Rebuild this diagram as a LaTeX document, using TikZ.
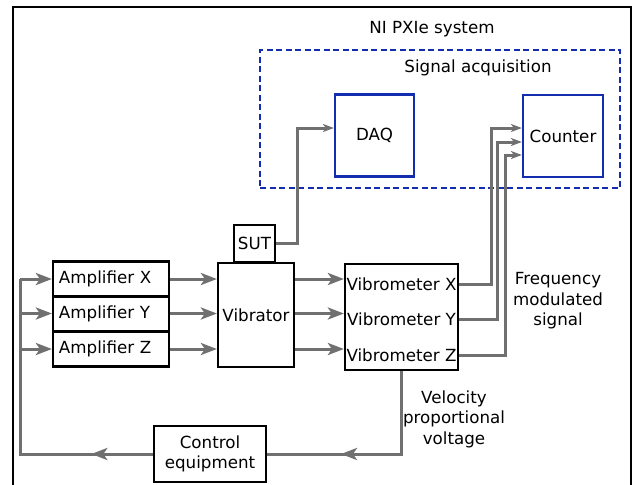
\documentclass[tikz,border=0pt]{standalone}
\usepackage{fontspec}
\setmainfont{DejaVu Sans}
\tikzset{blk/.style={draw=black,line width=2.2pt,inner sep=0pt},
	bblk/.style={draw=acqblue,line width=2.2pt,inner sep=0pt},
	arr/.style={color=wiregray,line width=3pt,-{Stealth[length=16pt,width=12pt,inset=4pt]}},
	sig/.style={color=wiregray,line width=3pt,-{Stealth[length=11pt,width=8pt,inset=3pt]}},
	fbline/.style={color=wiregray,line width=3pt,decoration={markings,mark=at position #1 with {\arrow{Stealth[length=16pt,width=12pt,inset=4pt]}}},postaction={decorate}}}
\usetikzlibrary{arrows.meta,decorations.markings}
\definecolor{wiregray}{RGB}{112,112,112}
\definecolor{acqblue}{RGB}{20,45,175}

\begin{document}
\begin{tikzpicture}[x=1pt,y=-1pt,every node/.style={font=\fontsize{16.7}{20.5}\selectfont}]
	\useasboundingbox (0,0) rectangle (633,485);
	\draw[line width=2.4pt] (13,490)--(13,7)--(631,7)--(631,490);
	% acquisition part
	\node (sys) at (432,29) {NI PXIe system};
	\node[draw=acqblue,line width=2.2pt,dash pattern=on 6pt off 3.5pt,minimum width=360,minimum height=138] (acq) at (440,119) {};
	\node (acqlbl) at (478,68) {Signal acquisition};
	\node[bblk,minimum width=79,minimum height=82] (daq) at (374.5,135.5) {DAQ};
	\node[bblk,minimum width=80,minimum height=82] (cnt) at (563,136) {Counter};
	% test rig
	\node[blk,minimum width=41,minimum height=37] (sut) at (254.5,243.5) {SUT};
	\node[blk,minimum width=76,minimum height=104] (vibr) at (256,315) {Vibrator};
	\foreach \n/\t/\y in {ampx/X/279,ampy/Y/313.5,ampz/Z/349}{
		\node[blk,minimum width=116,minimum height=35,text width=104,align=left] (\n) at (111,\y) {Amplifier \t};
	}
	\node[blk,minimum width=113,minimum height=106] (vib) at (401.5,317) {};
	\node (vibx) at (401.5,284) {Vibrometer X};
	\node (viby) at (401.5,319) {Vibrometer Y};
	\node (vibz) at (401.5,355) {Vibrometer Z};
	\node[blk,minimum width=112,minimum height=56,align=center] (ctrl) at (210,454) {Control\\equipment};
	\node[align=center] (vlbl) at (454,419) {Velocity\\proportional\\voltage};
	\node[align=center] (flbl) at (558,301) {Frequency\\modulated\\signal};
	\coordinate (fb) at (20,454);
	% connectors
	\foreach \a in {ampx,ampy,ampz}{
		\draw[arr] (\a.east)--(\a.east -| vibr.west);
		\draw[arr] (vibr.east |- \a)--(vib.west |- \a);
		\draw[arr] (fb |- \a)--(\a.west);
	}
	\draw[sig] (sut.east) -| (297,128)--(daq.west |- 0,128);
	\foreach \v/\xx/\ya in {vibx/491/128,viby/497/142,vibz/505/155}
		\draw[sig] (vib.east |- \v) -| (\xx,\ya)--(cnt.west |- 0,\ya);
	\draw[fbline=0.66] (vib.south) |- (ctrl.east);
	\draw[fbline=0.2] (ctrl.west)--(fb)--(fb |- ampx);
\end{tikzpicture}
\end{document}
